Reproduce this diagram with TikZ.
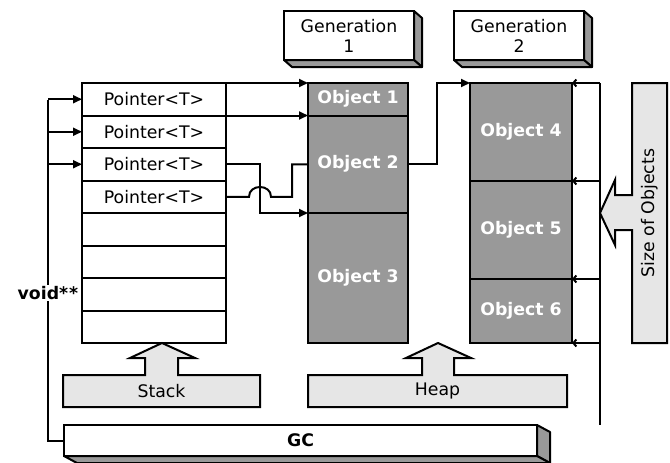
\documentclass[tikz,border=0pt]{standalone}
\usepackage{fontspec}
\setmainfont{DejaVu Sans}
\usetikzlibrary{arrows.meta,calc}
\definecolor{objgray}{HTML}{999999}
\definecolor{lightgr}{HTML}{E6E6E6}
\newcommand{\dfs}{\fontsize{17.3}{20}\selectfont}
\begin{document}
\begin{tikzpicture}[x=1pt,y=-1pt,line width=2pt,
  cell/.style={draw, minimum width=144pt, minimum height=32.5pt, inner sep=0pt, outer sep=0pt, font=\dfs},
  obj/.style={draw, fill=objgray, text=white, font=\dfs\bfseries, minimum width=100pt, inner sep=0pt, outer sep=0pt},
  objb/.style={obj, minimum width=102pt},
  gen/.style={draw, fill=white, minimum width=130pt, minimum height=49pt, inner sep=0pt, outer sep=0pt, align=center, font=\dfs},
  face/.style={draw, fill=objgray, line join=round},
  lbl/.style={font=\dfs, inner sep=0pt},
  lblbox/.style={draw, fill=lightgr},
  arr/.style={-{Triangle[length=9pt,width=8pt]}},
  sarr/.style={-{Straight Barb[length=3pt,width=7pt]}},
]
\useasboundingbox (0,0) rectangle (670,463);

% GC box
\node[draw, fill=white, minimum width=473pt, minimum height=31pt, inner sep=0pt, outer sep=0pt, font=\dfs\bfseries] (gc) at (300.5,440.5) {GC};
\draw[face] (gc.north east) -- ++(13,7) -- ++(0,31) -- (gc.south east) -- cycle;
\draw[face] (gc.south west) -- ++(13,7) -- ++(473,0) -- (gc.south east) -- cycle;

% left bus
\coordinate (lb) at (48,100);
\draw (gc.west) -| (lb);
\node[font=\dfs\bfseries, fill=white, inner sep=1pt] (void) at (48,293) {void*\kern1pt*};

% stack
\node[cell] (r1) at (154,99.25) {Pointer<T>};
\node[cell] (r2) at (154,131.75) {Pointer<T>};
\node[cell] (r3) at (154,164.25) {Pointer<T>};
\node[cell] (r4) at (154,196.75) {Pointer<T>};
\node[cell] (r5) at (154,229.25) {};
\node[cell] (r6) at (154,261.75) {};
\node[cell] (r7) at (154,294.25) {};
\node[cell] (r8) at (154,326.75) {};

\draw[arr] (lb |- r1.west) -- (r1.west);
\draw[arr] (lb |- r2.west) -- (r2.west);
\draw[arr] (lb |- r3.west) -- (r3.west);

% generation 1 objects
\node[obj, minimum height=32.5pt] (o1) at (358,99.25) {Object 1};
\node[obj, minimum height=97.5pt] (o2) at (358,164.25) {Object 2};
\node[obj, minimum height=130pt] (o3) at (358,278) {Object 3};

% generation 2 objects
\node[objb, minimum height=98pt] (o4) at (521,132) {Object 4};
\node[objb, minimum height=98pt] (o5) at (521,230) {Object 5};
\node[objb, minimum height=64pt] (o6) at (521,311) {Object 6};

% generation boxes
\node[gen] (g1) at (349,35.5) {Generation\\1};
\draw[face] (g1.north east) -- ++(8,7) -- ++(0,49) -- (g1.south east) -- cycle;
\draw[face] (g1.south west) -- ++(8,7) -- ++(130,0) -- (g1.south east) -- cycle;
\node[gen] (g2) at (519,35.5) {Generation\\2};
\draw[face] (g2.north east) -- ++(8,7) -- ++(0,49) -- (g2.south east) -- cycle;
\draw[face] (g2.south west) -- ++(8,7) -- ++(130,0) -- (g2.south east) -- cycle;

% pointers to objects
\draw[arr] (r1.north east) -- (o1.north west);
\draw[arr] (r2.north east) -- (o2.north west);
\draw[arr] (r3.east) -- (260,164.25) |- (o3.north west);
\draw (r4.east) -- (249,196.75) .. controls (249,183.75) and (271,183.75) .. (271,196.75) -- (292,196.75) |- (o2.west);
\draw[arr] (o2.east) -- (437,164.25) |- (o4.north west);

% right bus
\coordinate (rb) at (600,83);
\draw (rb) -- (rb |- gc.north);
\draw[sarr] (rb |- o4.north east) -- (o4.north east);
\draw[sarr] (rb |- o5.north east) -- (o5.north east);
\draw[sarr] (rb |- o6.north east) -- (o6.north east);
\draw[sarr] (rb |- o6.south east) -- (o6.south east);

% block-arrow label shapes
\draw[lblbox] (63,407) -- (63,375) -- (145,375) -- (145,358) -- (130,358) -- (162,343) -- (195,358) -- (178,358) -- (178,375) -- (260,375) -- (260,407) -- cycle;
\draw[lblbox] (308,407) -- (308,375) -- (422,375) -- (422,358) -- (406,358) -- (438,343) -- (471,358) -- (454,358) -- (454,375) -- (567,375) -- (567,407) -- cycle;
\draw[lblbox] (667,83) -- (632,83) -- (632,195) -- (615,195) -- (615,180) -- (600,213) -- (615,245) -- (615,230) -- (632,230) -- (632,343) -- (667,343) -- cycle;

\node[lbl] (stk) at (161.5,391) {Stack};
\node[lbl] (hp) at (437.5,391) {Heap};
\node[lbl, rotate=90] (sz) at (649.5,213) {Size of Objects};
\end{tikzpicture}
\end{document}
